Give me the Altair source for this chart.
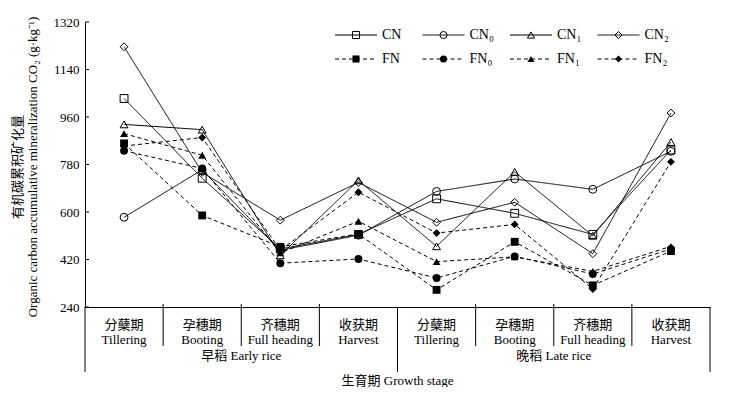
import altair as alt
import pandas as pd

# ---------------- data ----------------
stages_cn = ["分蘖期", "孕穗期", "齐穗期", "收获期", "分蘖期", "孕穗期", "齐穗期", "收获期"]
stages_en = ["Tillering", "Booting", "Full heading", "Harvest",
             "Tillering", "Booting", "Full heading", "Harvest"]
seasons = ["早稻 Early rice", "晚稻 Late rice"]
series = ["CN", "CN0", "CN1", "CN2", "FN", "FN0", "FN1", "FN2"]
series_labels = ["CN", "CN₀", "CN₁", "CN₂", "FN", "FN₀", "FN₁", "FN₂"]

CN = [1030, 728, 460, 515, 650, 595, 515, 835]
CN0 = [580, 760, 455, 512, 678, 725, 686, 830]
CN1 = [932, 912, 436, 720, 470, 752, 510, 865]
CN2 = [1226, 750, 569, 712, 561, 637, 442, 975]
FN = [860, 587, 468, 517, 305, 487, 322, 452]
FN0 = [832, 765, 406, 422, 350, 432, 365, 460]
FN1 = [897, 815, 445, 565, 412, 430, 375, 470]
FN2 = [850, 882, 455, 675, 520, 553, 308, 790]

y_ticks = [240, 420, 600, 780, 960, 1140, 1320]

# ---------------- layout ----------------
W, H = 625, 285
FONT = "Liberation Serif, 'Noto Sans CJK SC'"
MS = 62
values = {"CN": CN, "CN0": CN0, "CN1": CN1, "CN2": CN2,
          "FN": FN, "FN0": FN0, "FN1": FN1, "FN2": FN2}

rows = []
for s in series:
    for i, v in enumerate(values[s]):
        rows.append({"series": s, "type": s[:2], "pos": i + 0.5, "value": v})
df = pd.DataFrame(rows)

shape_scale = alt.Scale(
    domain=series,
    range=["square", "circle", "triangle-up", "diamond",
           "square", "circle", "triangle-up", "diamond"])
dash_scale = alt.Scale(domain=["CN", "FN"], range=[[1, 0], [4, 3]])

x_axis = alt.Axis(labels=False, ticks=False, title=None, grid=False,
                  domainColor="black", domainWidth=1)
xs = alt.Scale(domain=[0, 8], nice=False)
ys = alt.Scale(domain=[240, 1320], nice=False, zero=False)
y_axis = alt.Axis(values=y_ticks, grid=False, ticks=False, domainColor="black",
                  format="d",
                  labelFont=FONT, labelFontSize=13, labelColor="black", labelPadding=6,
                  title=["有机碳累积矿化量",
                         "Organic carbon accumulative mineralization CO₂ (g·kg⁻¹)"],
                  titleFont=FONT, titleFontSize=13, titleFontWeight="normal",
                  titleColor="black", titleAngle=270, titleX=-68, titleY=H / 2 + 2,
                  titleAlign="center", titleBaseline="middle", titleLineHeight=15)

X = alt.X("pos:Q", scale=xs, axis=x_axis)
Y = alt.Y("value:Q", scale=ys, axis=y_axis)

lines = alt.Chart(df).mark_line(color="black", strokeWidth=1).encode(
    x=X, y=Y, detail="series:N",
    strokeDash=alt.StrokeDash("type:N", scale=dash_scale, legend=None))

open_pts = alt.Chart(df).transform_filter(alt.datum.type == "CN").mark_point(
    filled=False, color="black", strokeWidth=1, size=MS, opacity=1).encode(
    x=X, y=Y, shape=alt.Shape("series:N", scale=shape_scale, legend=None))

fill_pts = alt.Chart(df).transform_filter(alt.datum.type == "FN").mark_point(
    filled=True, color="black", size=MS, opacity=1).encode(
    x=X, y=Y, shape=alt.Shape("series:N", scale=shape_scale, legend=None))

# y inward ticks
ytick_df = pd.DataFrame({"value": y_ticks})
yticks = alt.Chart(ytick_df).mark_rule(color="black", strokeWidth=1).encode(
    y=Y, x=alt.value(0), x2=alt.value(4))

# x separators
bounds = list(range(0, 9))
sep_df = pd.DataFrame({"pos": bounds,
                       "long": [b % 4 == 0 for b in bounds]})
sep_short = alt.Chart(sep_df).transform_filter("!datum.long").mark_rule(
    color="black", strokeWidth=1).encode(x=X, y=alt.value(H - 3), y2=alt.value(H + 39))
sep_long = alt.Chart(sep_df).transform_filter("datum.long").mark_rule(
    color="black", strokeWidth=1).encode(x=X, y=alt.value(H), y2=alt.value(H + 65))

cat_df = pd.DataFrame({"pos": [i + 0.5 for i in range(8)],
                       "txt": [c + "\n" + e for c, e in zip(stages_cn, stages_en)]})
cat_text = alt.Chart(cat_df).mark_text(
    font=FONT, fontSize=13, color="black", baseline="top", align="center",
    lineBreak="\n", lineHeight=15).encode(x=X, y=alt.value(H + 12), text="txt:N")

season_df = pd.DataFrame({"pos": [2, 6], "txt": seasons})
season_text = alt.Chart(season_df).mark_text(
    font=FONT, fontSize=13, color="black", baseline="middle", align="center").encode(
    x=X, y=alt.value(H + 49), text="txt:N")

title_df = pd.DataFrame({"pos": [4], "txt": ["生育期 Growth stage"]})
title_text = alt.Chart(title_df).mark_text(
    font=FONT, fontSize=13, color="black", baseline="middle", align="center").encode(
    x=X, y=alt.value(H + 74), text="txt:N")

# legend (layout in pixels)
leg_rows = []
for i, (s, lab) in enumerate(zip(series, series_labels)):
    col, row = i % 4, i // 4
    x0 = 250 + col * 87.5
    leg_rows.append({"series": s, "label": lab, "type": s[:2],
                     "lx": x0, "lx2": x0 + 42, "lm": x0 + 21, "lt": x0 + 47,
                     "ly": 13 + row * 24})
leg_df = pd.DataFrame(leg_rows)
LX = lambda f: alt.X(f, scale=None, axis=None)
LY = alt.Y("ly:Q", scale=None, axis=None)
leg_lines = alt.Chart(leg_df).mark_rule(color="black", strokeWidth=1).encode(
    x=LX("lx:Q"), x2="lx2:Q", y=LY,
    strokeDash=alt.StrokeDash("type:N", scale=dash_scale, legend=None))
leg_open = alt.Chart(leg_df).transform_filter(alt.datum.type == "CN").mark_point(
    filled=False, color="black", strokeWidth=1, size=50, opacity=1).encode(
    x=LX("lm:Q"), y=LY, shape=alt.Shape("series:N", scale=shape_scale, legend=None))
leg_fill = alt.Chart(leg_df).transform_filter(alt.datum.type == "FN").mark_point(
    filled=True, color="black", size=50, opacity=1).encode(
    x=LX("lm:Q"), y=LY, shape=alt.Shape("series:N", scale=shape_scale, legend=None))
leg_text = alt.Chart(leg_df).mark_text(
    font=FONT, fontSize=14, color="black", align="left", baseline="middle").encode(
    x=LX("lt:Q"), y=LY, text="label:N")

chart = alt.layer(
    lines, open_pts, fill_pts, yticks, sep_short, sep_long,
    cat_text, season_text, title_text,
    leg_lines, leg_open, leg_fill, leg_text
).properties(
    width=W, height=H,
    padding={"left": 77, "top": 14, "right": 24, "bottom": 80},
    autosize=alt.AutoSizeParams(type="none"),
    background="white",
).configure_view(stroke=None)

chart.save("out.html", embed_options={"renderer": "svg", "actions": False})
